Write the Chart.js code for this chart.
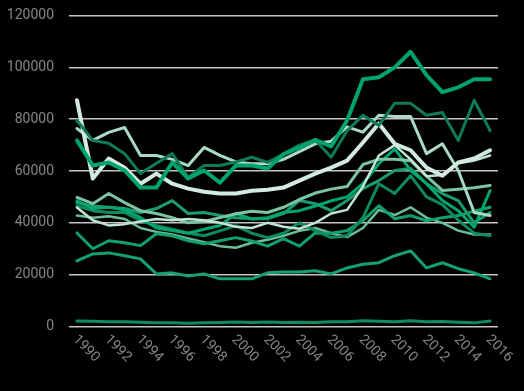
<!DOCTYPE html>
<html>
<head>
<meta charset="utf-8">
<style>
  html, body { margin: 0; padding: 0; background: #000; }
  #wrap { position: relative; width: 524px; height: 391px; }
</style>
</head>
<body>
<div id="wrap">
  <canvas id="chart"></canvas>
</div>

<script src="https://cdn.jsdelivr.net/npm/chart.js"></script>

<script>
  const years = ['1990', '1991', '1992', '1993', '1994', '1995', '1996', '1997', '1998',
    '1999', '2000', '2001', '2002', '2003', '2004', '2005', '2006', '2007', '2008',
    '2009', '2010', '2011', '2012', '2013', '2014', '2015', '2016']

  const seriesA = [71800, 62100, 63300, 60200, 53600, 53600, 63300, 57100, 60200, 55500, 62100, 62100, 61000, 66500, 69000, 72000, 69500, 79500, 95400, 96200, 100000, 106000, 97000, 90400, 92300, 95400, 95400]
  const seriesB = [79500, 71800, 70700, 66700, 59000, 63000, 66700, 57500, 62100, 62100, 63500, 65300, 63300, 66500, 70000, 72000, 65300, 75500, 81500, 77600, 86100, 86100, 81500, 82600, 71800, 87300, 75600]
  const seriesC = [87300, 57100, 64800, 61300, 55100, 59000, 55100, 53200, 52000, 51300, 51300, 52400, 52800, 53600, 56300, 59000, 61300, 64000, 71000, 78300, 70500, 68000, 61300, 58200, 63300, 64800, 68000]
  const seriesD = [76400, 71800, 74900, 76800, 66000, 66000, 64500, 62100, 69100, 66000, 63500, 62800, 62800, 64500, 67500, 70500, 71500, 77000, 75000, 81500, 81000, 81000, 66700, 70500, 60200, 44000, 42800]
  const seriesE = [45900, 41000, 39000, 39500, 40500, 41500, 41000, 41500, 41000, 40000, 38500, 38000, 40000, 38500, 37700, 40000, 43600, 45000, 54000, 66000, 70000, 64500, 58000, 58500, 63000, 64000, 66000]
  const seriesF = [49800, 47400, 51300, 47800, 44700, 43600, 42000, 40000, 40500, 42000, 43500, 44500, 44000, 46000, 49000, 51500, 53000, 54000, 62500, 64500, 64500, 64000, 58000, 52500, 53000, 53500, 54400]
  const seriesG = [48500, 45500, 46000, 45000, 42000, 38000, 37000, 36000, 37500, 39000, 43500, 41500, 42000, 44000, 44700, 46500, 48500, 50000, 55100, 62800, 68500, 60200, 55100, 48600, 44700, 38300, 52400]
  const seriesH = [47800, 46500, 46000, 45500, 44000, 45500, 48600, 43600, 44000, 42800, 42000, 41600, 41600, 43600, 48600, 47400, 44700, 48600, 53200, 56300, 60200, 61000, 55100, 51300, 48600, 40000, 44000]
  const seriesI = [46600, 44700, 44000, 44000, 40800, 38900, 37500, 36100, 35000, 36900, 38900, 36000, 34300, 36000, 40000, 37000, 34300, 35000, 42000, 55100, 51300, 58200, 50000, 47000, 41000, 36000, 35000]
  const seriesJ = [36100, 30000, 33100, 32300, 31200, 35800, 35000, 33100, 31900, 33100, 34300, 33000, 31000, 33900, 31000, 36100, 36000, 37000, 40800, 46600, 41600, 42800, 40800, 42000, 42800, 44500, 46000]
  const seriesK = [42800, 42000, 42500, 41500, 38000, 36500, 35500, 34000, 32500, 31000, 30400, 32300, 33500, 35000, 36900, 38000, 36000, 34500, 38000, 45000, 43000, 46000, 42000, 40000, 37000, 35500, 35500]
  const seriesL = [25300, 28000, 28400, 27300, 26100, 20300, 20700, 19500, 20300, 18400, 18400, 18400, 20700, 21000, 21000, 21500, 20300, 22600, 24000, 24600, 27300, 29200, 22600, 24600, 22300, 20700, 18400]
  const seriesM = [2100, 2000, 1800, 1800, 1600, 1400, 1400, 1300, 1400, 1500, 1700, 1500, 1700, 1500, 1600, 1500, 1800, 1800, 2200, 2000, 1800, 2200, 1800, 1900, 1600, 1400, 2100]

  const tickColor = '#858585'
  const tickFont = { family: 'Roboto', size: 14 }

  function line(label, data, color, width) {
    return {
      label: label,
      data: data,
      fill: false,
      borderColor: color,
      borderWidth: width,
      borderJoinStyle: 'round',
      borderCapStyle: 'round',
      pointRadius: 0,
      tension: 0
    }
  }

  // year labels run down to the right, so draw them by hand
  const slantedYears = {
    id: 'slantedYears',
    afterDraw(chart) {
      const ctx = chart.ctx
      const x = chart.scales.x
      ctx.save()
      ctx.fillStyle = tickColor
      ctx.font = tickFont.size + 'px ' + tickFont.family
      ctx.textAlign = 'left'
      ctx.textBaseline = 'middle'
      years.forEach((year, i) => {
        if (i % 2) return
        ctx.save()
        ctx.translate(x.getPixelForValue(i) - 2, chart.chartArea.bottom + 11)
        ctx.rotate(Math.PI / 4)
        ctx.fillText(year, 0, 0)
        ctx.restore()
      })
      ctx.restore()
    }
  }

  new Chart(document.getElementById('chart'), {
    type: 'line',
    data: {
      labels: years,
      datasets: [
        line('A', seriesA, '#00a36f', 4),
        line('B', seriesB, '#0f7a57', 3),
        line('C', seriesC, '#d3ebdf', 4),
        line('D', seriesD, '#a9dac3', 3),
        line('E', seriesE, '#c2e4d3', 2.5),
        line('F', seriesF, '#7bc5a2', 3),
        line('G', seriesG, '#00a56f', 3),
        line('H', seriesH, '#1b9a6c', 3),
        line('I', seriesI, '#0e8a5f', 3),
        line('J', seriesJ, '#12a06d', 3),
        line('K', seriesK, '#6dbd98', 2.5),
        line('L', seriesL, '#14a170', 3),
        line('M', seriesM, '#0e8c60', 3)
      ]
    },
    options: {
      responsive: true,
      maintainAspectRatio: false,
      animation: false,
      layout: { padding: { top: 15.5, right: 26, bottom: 0, left: 0 } },
      plugins: {
        legend: { display: false },
        tooltip: { enabled: false }
      },
      scales: {
        x: {
          offset: true,
          grid: { display: false },
          border: { display: false },
          ticks: { display: false },
          afterFit: scale => { scale.height = 64.5 }
        },
        y: {
          min: 0,
          max: 120000,
          grid: { color: '#c4c4c4', lineWidth: 1.5, drawTicks: false },
          border: { display: false },
          ticks: {
            stepSize: 20000,
            color: tickColor,
            font: tickFont,
            padding: 15,
            callback: value => String(value)
          },
          afterFit: scale => {
            scale.width = 69
            scale.paddingTop = 0
            scale.paddingBottom = 0
          }
        }
      }
    },
    plugins: [slantedYears]
  })
</script>
</body>
</html>
